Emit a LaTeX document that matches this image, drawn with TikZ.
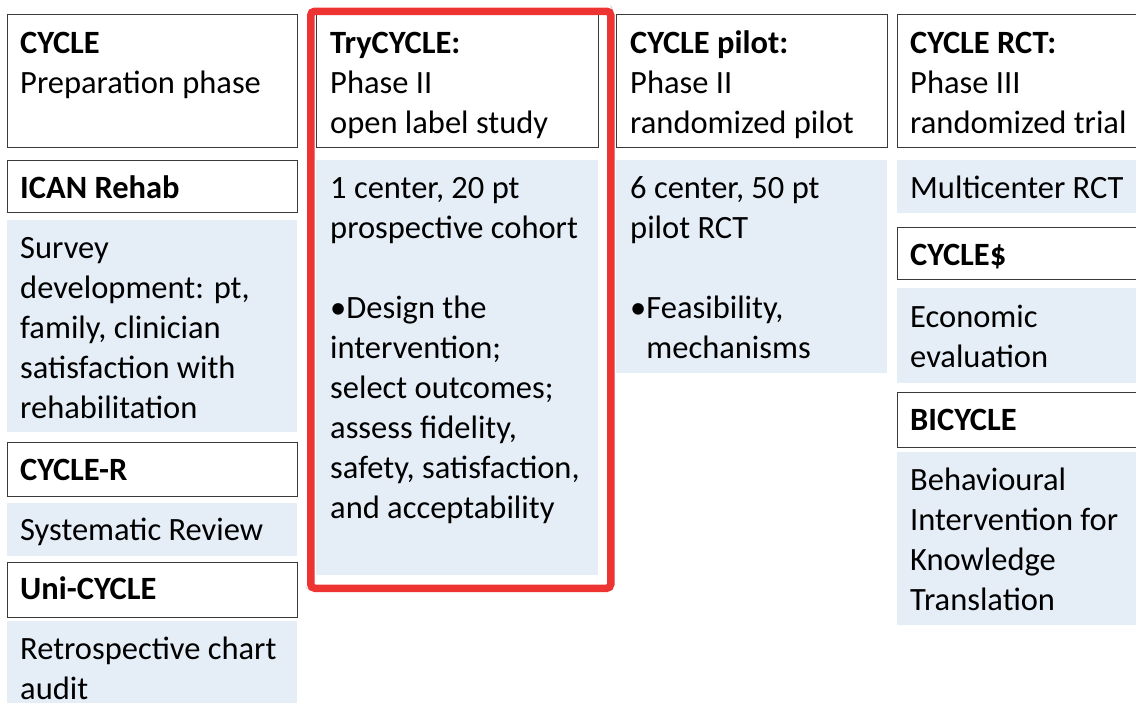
\documentclass[tikz,border=0pt]{standalone}
\usepackage{fontspec}
\setmainfont{Carlito}
\definecolor{boxblue}{HTML}{E5EDF6}
\definecolor{boxline}{HTML}{3A3A3A}
\definecolor{hired}{HTML}{EE3333}
\newcommand{\bigtxt}{\fontsize{32.5}{40}\selectfont}
\tikzset{
  hdrbox/.style={draw=boxline, line width=1.3pt, fill=white, rectangle, inner sep=0pt, anchor=north west},
  blubox/.style={fill=boxblue, draw=none, rectangle, inner sep=0pt, anchor=north west},
  txt/.style={anchor=north west, inner sep=0pt, align=left, font=\bigtxt, text=black},
}
% \bx{name}{style}{x1}{y1}{x2}{y2}
\newcommand{\bx}[6]{\node[#2, minimum width=#5pt-#3pt, minimum height=#6pt-#4pt] (#1) at (#3,#4) {};}
% \tx{name}{x}{first baseline}{text}
\newcommand{\tx}[4]{\node[txt] (#1) at (#2,#3-28) {\strut #4};}
\begin{document}
\begin{tikzpicture}[x=1pt,y=-1pt]
\useasboundingbox (0,0) rectangle (1136,702);
\fill[white] (0,0) rectangle (1136,702);
% ---------- column 1
\bx{h1}{hdrbox}{7}{14}{297}{147}
\tx{t1}{20}{53}{\textbf{CYCLE}\\Preparation phase}
\bx{h1a}{hdrbox}{7}{160}{297}{212}
\tx{t1a}{20}{198}{\textbf{ICAN Rehab}}
\bx{b1a}{blubox}{7}{220}{297}{432}
\tx{s1a}{20}{258}{Survey\\development: pt,\\family, clinician\\satisfaction with\\rehabilitation}
\bx{h1b}{hdrbox}{7}{442}{297}{496}
\tx{t1b}{20}{480}{\textbf{CYCLE-R}}
\bx{b1b}{blubox}{7}{503}{297}{556}
\tx{s1b}{20}{540}{Systematic Review}
\bx{h1c}{hdrbox}{7}{562}{297}{617}
\tx{t1c}{20}{599}{\textbf{Uni-CYCLE}}
\bx{b1c}{blubox}{7}{621}{297}{712}
\tx{s1c}{20}{659}{Retrospective chart\\audit}
% ---------- column 2 (highlighted)
\fill[black, opacity=0.12, rounded corners=4pt] (305,5) rectangle (613,590);
\fill[white, rounded corners=4pt] (303.5,3.5) rectangle (610.5,587.5);
\bx{h2}{hdrbox}{316}{14}{598}{147}
\tx{t2}{330}{53}{\textbf{TryCYCLE:}\\Phase II\\open label study}
\bx{b2}{blubox}{316}{160}{598}{575}
\tx{s2}{330}{198}{1 center, 20 pt\\prospective cohort\\[40pt]\textbullet Design the\\intervention;\\select outcomes;\\assess fidelity,\\safety, satisfaction,\\and acceptability}
\node[draw=hired, line width=7.5pt, rounded corners=4pt, inner sep=0pt, anchor=north west,
      minimum width=300pt, minimum height=577pt] (hl) at (307,7.5) {};
% ---------- column 3
\bx{h3}{hdrbox}{616}{14}{887}{147}
\tx{t3}{630}{53}{\textbf{CYCLE pilot:}\\Phase II\\randomized pilot}
\bx{b3}{blubox}{616}{160}{887}{373}
\tx{s3}{630}{198}{6 center, 50 pt\\pilot RCT\\[40pt]\textbullet Feasibility,\\\hphantom{\textbullet}mechanisms}
% ---------- column 4
\bx{h4}{hdrbox}{897}{14}{1145}{147}
\tx{t4}{910}{53}{\textbf{CYCLE RCT:}\\Phase III\\randomized trial}
\bx{b4a}{blubox}{897}{160}{1145}{213}
\tx{s4a}{910}{198}{Multicenter RCT}
\bx{h4b}{hdrbox}{897}{227}{1145}{279}
\tx{t4b}{910}{265}{\textbf{CYCLE\$}}
\bx{b4b}{blubox}{897}{288}{1145}{383}
\tx{s4b}{910}{327}{Economic\\evaluation}
\bx{h4c}{hdrbox}{897}{392}{1145}{447}
\tx{t4c}{910}{430}{\textbf{BICYCLE}}
\bx{b4c}{blubox}{897}{452}{1145}{625}
\tx{s4c}{910}{490}{Behavioural\\Intervention for\\Knowledge\\Translation}
\end{tikzpicture}
\end{document}
